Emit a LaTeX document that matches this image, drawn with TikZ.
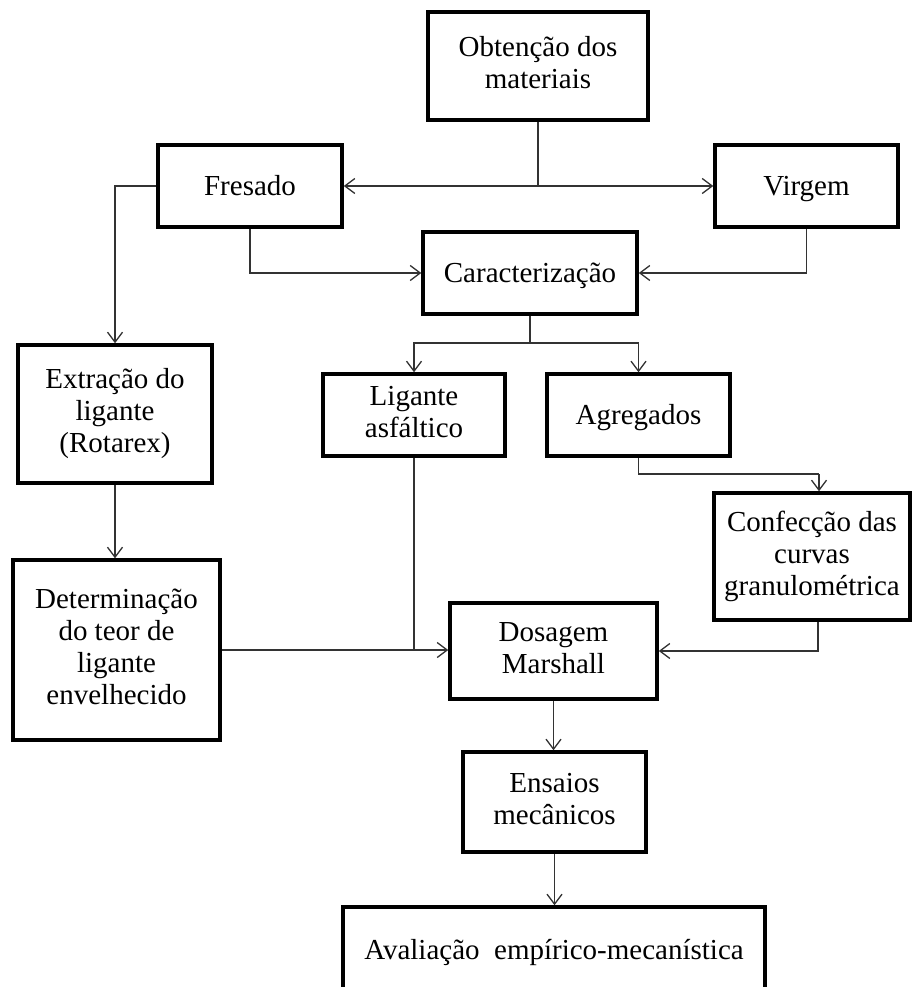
\documentclass[tikz,border=0pt]{standalone}
\usepackage{fontspec}
\setmainfont{Liberation Serif}
\usetikzlibrary{arrows.meta}
\newcommand\boxstrut{\rule[-7pt]{0pt}{32pt}}
\begin{document}
\begin{tikzpicture}[x=1pt,y=-1pt,
  box/.style={draw=black,line width=3.5pt,fill=white,inner sep=0pt,align=center,
    font=\fontsize{29}{32}\selectfont,
    execute at begin node=\boxstrut, execute at end node=\boxstrut},
  conn/.style={draw=black!80,line width=1.3pt},
  arr/.style={conn,-{Straight Barb[length=10pt,width=15pt,line width=1.3pt]}}]
\useasboundingbox (0,0) rectangle (911,987);
\fill[white] (0,0) rectangle (911,987);
\node[box,minimum width=220,minimum height=108] (obt) at (538,66) {Obtenção dos\\materiais};
\node[box,minimum width=184,minimum height=82] (fre) at (250,186) {Fresado};
\node[box,minimum width=183,minimum height=82] (vir) at (806.5,186) {Virgem};
\node[box,minimum width=214,minimum height=82] (car) at (530,273) {Caracterização};
\node[box,minimum width=194,minimum height=138] (ext) at (115,414) {Extração do\\ligante\\(Rotarex)};
\node[box,minimum width=182,minimum height=82] (lig) at (414,415) {Ligante\\asfáltico};
\node[box,minimum width=183,minimum height=82] (agr) at (638.5,415) {Agregados};
\node[box,minimum width=196,minimum height=127] (con) at (812,556.5) {Confecção das\\curvas\\granulométrica};
\node[box,minimum width=207,minimum height=180] (det) at (116.5,650) {Determinação\\do teor de\\ligante\\envelhecido};
\node[box,minimum width=207,minimum height=96] (dos) at (553.5,651) {Dosagem\\Marshall};
\node[box,minimum width=183,minimum height=100] (ens) at (554.5,802) {Ensaios\\mecânicos};
\node[box,minimum width=422,minimum height=86] (ava) at (554,950) {Avaliação\ \ empírico-mecanística};
\coordinate (j1) at (538,186);
\coordinate (j2) at (530,343);
\coordinate (j3) at (638.5,474);
\coordinate (j4) at (819,474);
\draw[conn] (obt.south) -- (j1);
\draw[arr] (j1) -- (fre.east);
\draw[arr] (j1) -- (vir.west);
\draw[arr] (fre.west) -| (ext.north);
\draw[arr] (fre.south) |- (car.west);
\draw[arr] (vir.south) |- (car.east);
\draw[conn] (car.south) -- (j2);
\draw[arr] (j2) -| (lig.north);
\draw[arr] (j2) -| (agr.north);
\draw[conn] (agr.south) -- (j3) -- (j4);
\draw[arr] (j4) -- (j4 |- con.north);
\draw[arr] (ext.south) -- (ext.south |- det.north);
\draw[arr] (det.east) -- (det.east -| dos.west);
\draw[conn] (lig.south) -- (lig.south |- det.east);
\draw[arr] ([xshift=6pt]con.south) |- (dos.east);
\draw[arr] (dos.south) -- (dos.south |- ens.north);
\draw[arr] (ens.south) -- (ens.south |- ava.north);
\end{tikzpicture}
\end{document}
